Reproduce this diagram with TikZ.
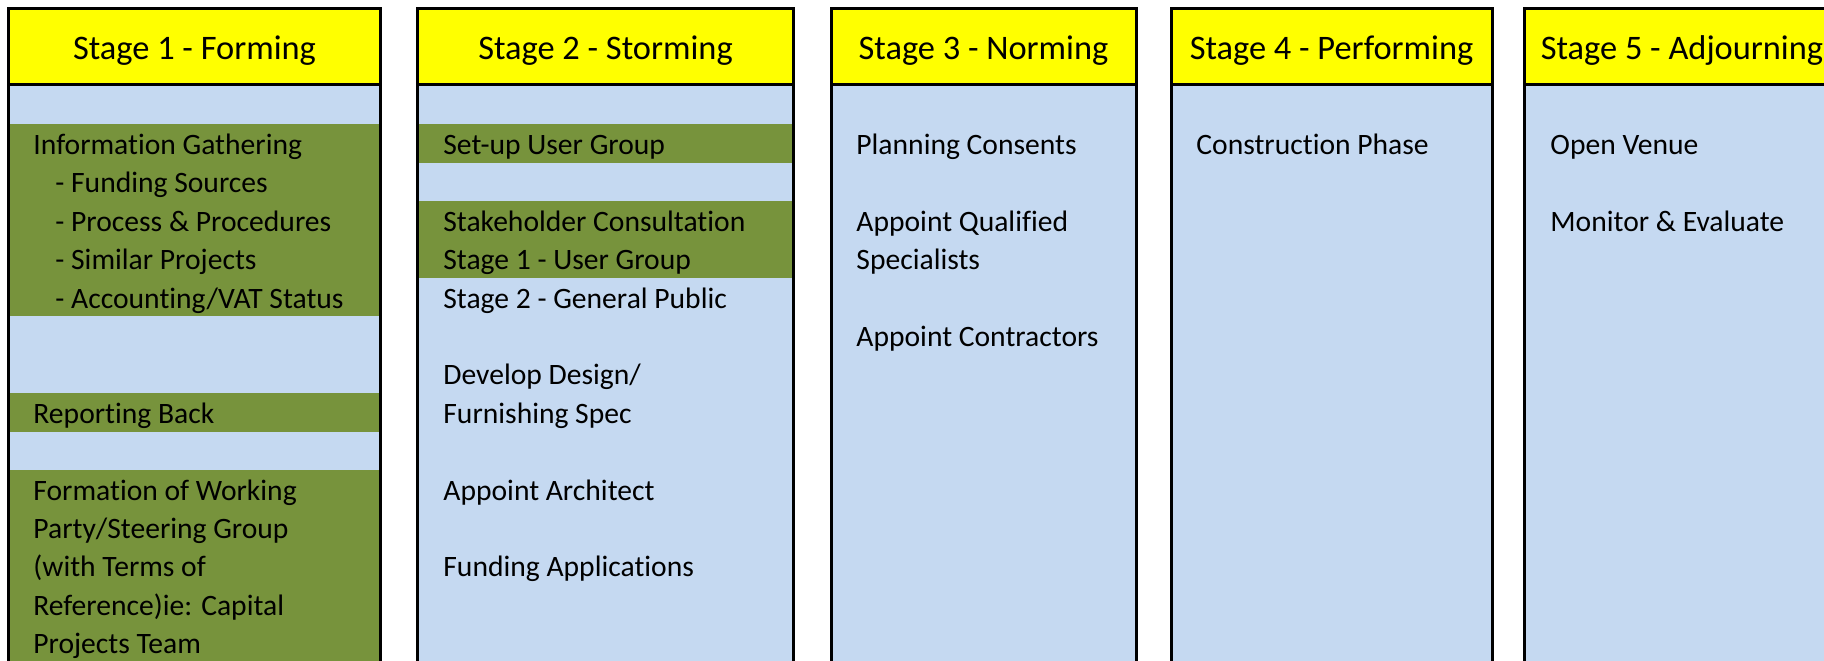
\documentclass[tikz,border=0pt]{standalone}
\usepackage{fontspec}
\setmainfont[Ligatures={NoCommon}]{Carlito}
\definecolor{hdryellow}{HTML}{FFFF00}
\definecolor{paleblue}{HTML}{C5D9F1}
\definecolor{olivegreen}{HTML}{77933C}
\tikzset{
  itemtext/.style={anchor=base west, inner sep=0pt, font=\fontsize{14.8}{18}\selectfont},
  hdrtext/.style={anchor=base, inner sep=0pt, font=\fontsize{17.2}{21}\selectfont},
  border/.style={draw=black, line width=1.5pt},
  band/.style={fill=olivegreen},
}
% row k baseline: 86 + 38.4*k + 30
\newcommand{\rb}[1]{{86+38.4*#1+30}}
\newcommand{\rt}[1]{{86+38.4*#1}}
\begin{document}
\begin{tikzpicture}[x=0.5pt,y=-0.5pt]
\useasboundingbox (0,0) rectangle (1824,660);
\fill[white] (0,0) rectangle (1824,660);
\clip (0,0) rectangle (1824,660);
% column fills
\foreach \L/\R in {8.5/380.5, 417.5/793.5, 831/1136, 1171/1492, 1524/1845}{
  \fill[hdryellow] (\L,8.5) rectangle (\R,84.5);
  \fill[paleblue] (\L,84.5) rectangle (\R,700);
}
% green bands column 1
\fill[band] (8.5,\rt{1}) rectangle (380.5,\rt{6});
\fill[band] (8.5,\rt{8}) rectangle (380.5,\rt{9});
\fill[band] (8.5,\rt{10}) rectangle (380.5,700);
% green bands column 2
\fill[band] (417.5,\rt{1}) rectangle (793.5,\rt{2});
\fill[band] (417.5,\rt{3}) rectangle (793.5,\rt{5});
% outlines
\foreach \L/\R in {8.5/380.5, 417.5/793.5, 831/1136, 1171/1492, 1524/1845}{
  \draw[border] (\L,84.5) -- (\R,84.5);
  \draw[border] (\L,700) -- (\L,8.5) -- (\R,8.5) -- (\R,700);
}
% headers
\node[hdrtext] (h1) at (194.5,59) {Stage 1 - Forming};
\node[hdrtext] (h2) at (605.5,59) {Stage 2 - Storming};
\node[hdrtext] (h3) at (983.5,59) {Stage 3 - Norming};
\node[hdrtext] (h4) at (1331.5,59) {Stage 4 - Performing};
\node[hdrtext] (h5) at (1682,59) {Stage 5 - Adjourning};
% column 1
\node[itemtext] (a1) at (33,\rb{1}) {Information Gathering};
\node[itemtext] (a2) at (55,\rb{2}) {- Funding Sources};
\node[itemtext] (a3) at (55,\rb{3}) {- Process \& Procedures};
\node[itemtext] (a4) at (55,\rb{4}) {- Similar Projects};
\node[itemtext] (a5) at (55,\rb{5}) {- Accounting/VAT Status};
\node[itemtext] (a6) at (33,\rb{8}) {Reporting Back};
\node[itemtext] (a7) at (33,\rb{10}) {Formation of Working};
\node[itemtext] (a8) at (33,\rb{11}) {Party/Steering Group};
\node[itemtext] (a9) at (33,\rb{12}) {(with Terms of};
\node[itemtext] (a10) at (33,\rb{13}) {Reference)ie: Capital};
\node[itemtext] (a11) at (33,\rb{14}) {Projects Team};
% column 2
\node[itemtext] (b1) at (443,\rb{1}) {Set-up User Group};
\node[itemtext] (b2) at (443,\rb{3}) {Stakeholder Consultation};
\node[itemtext] (b3) at (443,\rb{4}) {Stage 1 - User Group};
\node[itemtext] (b4) at (443,\rb{5}) {Stage 2 - General Public};
\node[itemtext] (b5) at (443,\rb{7}) {Develop Design/};
\node[itemtext] (b6) at (443,\rb{8}) {Furnishing Spec};
\node[itemtext] (b7) at (443,\rb{10}) {Appoint Architect};
\node[itemtext] (b8) at (443,\rb{12}) {Funding Applications};
% column 3
\node[itemtext] (c1) at (856,\rb{1}) {Planning Consents};
\node[itemtext] (c2) at (856,\rb{3}) {Appoint Qualified};
\node[itemtext] (c3) at (856,\rb{4}) {Specialists};
\node[itemtext] (c4) at (856,\rb{6}) {Appoint Contractors};
% column 4
\node[itemtext] (d1) at (1196,\rb{1}) {Construction Phase};
% column 5
\node[itemtext] (e1) at (1550,\rb{1}) {Open Venue};
\node[itemtext] (e2) at (1550,\rb{3}) {Monitor \& Evaluate};
\end{tikzpicture}
\end{document}
